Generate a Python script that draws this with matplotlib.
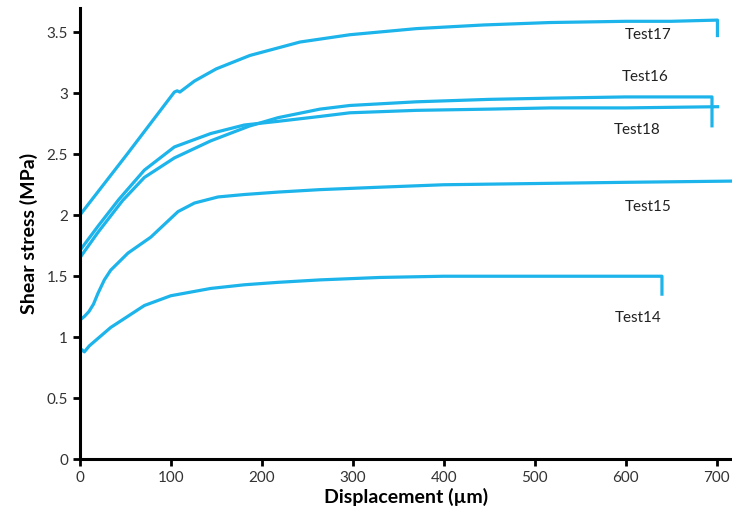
import numpy as np
import matplotlib
matplotlib.use("Agg")
import matplotlib.pyplot as plt

plt.rcParams['font.family'] = ['Lato', 'DejaVu Sans']

# data (displacement um, shear stress MPa)
t17_x = [0, 53, 104, 107, 110, 126, 150, 187, 242, 297, 370, 444, 517, 600, 650, 701, 701]
t17_y = [2.0, 2.51, 3.01, 3.02, 3.01, 3.10, 3.20, 3.31, 3.42, 3.48, 3.53, 3.56, 3.58, 3.59, 3.59, 3.60, 3.46]

t16_x = [0, 20, 47, 71, 104, 144, 186, 218, 264, 297, 370, 450, 517, 600, 695, 695]
t16_y = [1.65, 1.86, 2.12, 2.31, 2.47, 2.61, 2.73, 2.80, 2.87, 2.90, 2.93, 2.95, 2.96, 2.97, 2.97, 2.72]

t18_x = [0, 20, 43, 71, 104, 144, 181, 218, 264, 297, 370, 450, 517, 600, 703]
t18_y = [1.71, 1.91, 2.13, 2.37, 2.56, 2.67, 2.74, 2.77, 2.81, 2.84, 2.86, 2.87, 2.88, 2.88, 2.89]

t15_x = [0, 5, 10, 15, 20, 27, 34, 53, 78, 108, 126, 152, 181, 218, 264, 330, 400, 500, 600, 717]
t15_y = [1.14, 1.17, 1.21, 1.27, 1.36, 1.47, 1.55, 1.69, 1.82, 2.03, 2.10, 2.15, 2.17, 2.19, 2.21, 2.23, 2.25, 2.26, 2.27, 2.28]

t14_x = [0, 5, 10.6, 34, 71, 100, 144, 181, 218, 264, 330, 400, 500, 600, 640, 640]
t14_y = [0.91, 0.88, 0.93, 1.08, 1.26, 1.34, 1.40, 1.43, 1.45, 1.47, 1.49, 1.50, 1.50, 1.50, 1.50, 1.34]

series = [
    (t17_x, t17_y, "Test17", (625, 3.48)),
    (t16_x, t16_y, "Test16", (621, 3.13)),
    (t18_x, t18_y, "Test18", (613, 2.70)),
    (t15_x, t15_y, "Test15", (625, 2.07)),
    (t14_x, t14_y, "Test14", (614, 1.16)),
]

color = '#1cb4ea'

fig = plt.figure(figsize=(7.32, 5.26), dpi=100)
ax = fig.add_axes([0.109, 0.127, 0.891, 0.858])

for xs, ys, name, (lx, ly) in series:
    ax.plot(xs, ys, color=color, lw=2.3, solid_joinstyle='round', solid_capstyle='butt')
    ax.text(lx, ly, name, ha='center', va='center', fontsize=11, color='#222222')

ax.set_xlim(0, 717)
ax.set_ylim(0, 3.7)
ax.set_xticks(np.arange(0, 701, 100))
ax.set_yticks(np.arange(0, 3.51, 0.5))
ax.set_yticklabels(['0', '0.5', '1', '1.5', '2', '2.5', '3', '3.5'])

for s in ['top', 'right']:
    ax.spines[s].set_visible(False)
for s in ['left', 'bottom']:
    ax.spines[s].set_linewidth(2.2)
ax.tick_params(direction='out', length=5, width=2, labelsize=11, colors='black')
for lbl in ax.get_xticklabels() + ax.get_yticklabels():
    lbl.set_color('#333333')

ax.set_xlabel('Displacement (µm)', fontsize=14, fontweight='bold', labelpad=2)
ax.set_ylabel('Shear stress (MPa)', fontsize=14, fontweight='bold', labelpad=6)

fig.savefig('out.png', dpi=100)
